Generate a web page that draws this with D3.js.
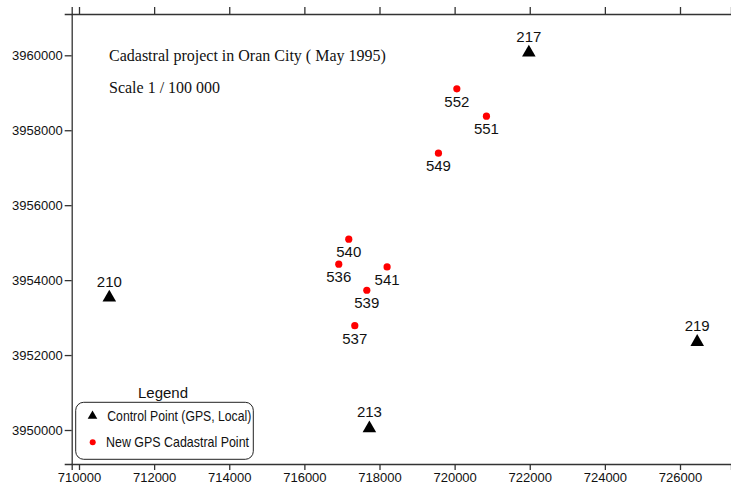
<!DOCTYPE html>
<html lang="en">
<head>
<meta charset="UTF-8">
<title>Cadastral project in Oran City</title>
<script src="https://d3js.org/d3.v7.min.js"></script>
<style>
    body{ margin:0; background:#fff; }
    .axis text{ font-family:"Liberation Sans", Arial, sans-serif; font-size:13px; fill:#111; }
    .axis path, .axis line{ stroke:#333; stroke-width:1.3; }
    .lbl{ font-family:"Liberation Sans", Arial, sans-serif; font-size:15px; fill:#111; }
    .note{ font-family:"Liberation Serif", "Times New Roman", serif; font-size:16px; fill:#111; }
</style>
</head>
<body>
<script>
// control points (GPS, local)
const ctrlNames = ["217", "210", "213", "219"]
const ctrlX = [721976, 710807, 717731, 726458]
const ctrlY = [3960100, 3953559, 3950072, 3952376]

// new GPS cadastral points
const newNames = ["552", "551", "549", "540", "536", "541", "539", "537"]
const newX = [720059, 720847, 719569, 717182, 716916, 718202, 717662, 717342]
const newY = [3959106, 3958376, 3957389, 3955092, 3954425, 3954352, 3953730, 3952785]

const xTicks = [710000, 712000, 714000, 716000, 718000, 720000, 722000, 724000, 726000]
const yTicks = [3950000, 3952000, 3954000, 3956000, 3958000, 3960000]

const W = 731, H = 486
const plot = {left:71.7, right:731, top:14, bottom:464}

const svg = d3.select("body").append("svg").attr("width", W).attr("height", H)

// scales: calibrate on the tick positions, then stretch to the frame
const x = d3.scaleLinear().domain([710000, 726000]).range([79, 680])
x.domain([x.invert(plot.left), x.invert(plot.right)]).range([plot.left, plot.right])
const y = d3.scaleLinear().domain([3950000, 3960000]).range([430, 55.3])
y.domain([y.invert(plot.bottom), y.invert(plot.top)]).range([plot.bottom, plot.top])

const fmt = d3.format("d")

svg.append("g").attr("class","axis")
    .attr("transform", `translate(0,${plot.bottom})`)
    .call(d3.axisBottom(x).tickValues(xTicks).tickFormat(fmt).tickSizeOuter(0).tickSize(6).tickPadding(3))

svg.append("g").attr("class","axis")
    .attr("transform", `translate(0,${plot.top})`)
    .call(d3.axisTop(x).tickValues(xTicks).tickFormat("").tickSizeOuter(0).tickSize(7))

svg.append("g").attr("class","axis")
    .attr("transform", `translate(${plot.left},0)`)
    .call(d3.axisLeft(y).tickValues(yTicks).tickFormat(fmt).tickSizeOuter(0).tickSize(7).tickPadding(2))

// notes
svg.append("text").attr("class","note").attr("x",109).attr("y",61)
    .text("Cadastral project in Oran City ( May 1995)")
svg.append("text").attr("class","note").attr("x",109).attr("y",93)
    .text("Scale 1 / 100 000")

const tri = d3.symbol().type(d3.symbolTriangle)

const ctrl = ctrlNames.map((n,i)=> ({name:n, x:ctrlX[i], y:ctrlY[i]}))
const pts = newNames.map((n,i)=> ({name:n, x:newX[i], y:newY[i]}))

svg.selectAll(".ctrl").data(ctrl).join("path")
    .attr("class","ctrl")
    .attr("d", tri.size(80))
    .attr("transform", d=> `translate(${x(d.x)},${y(d.y)+1})`)
    .attr("fill","#000")
svg.selectAll(".ctrlLbl").data(ctrl).join("text")
    .attr("class","lbl")
    .attr("x", d=> x(d.x)).attr("y", d=> y(d.y)-10)
    .attr("text-anchor","middle")
    .text(d=> d.name)

svg.selectAll(".pt").data(pts).join("circle")
    .attr("cx", d=> x(d.x)).attr("cy", d=> y(d.y))
    .attr("r", 3.6).attr("fill","#ff0000")
svg.selectAll(".ptLbl").data(pts).join("text")
    .attr("class","lbl")
    .attr("x", d=> x(d.x)).attr("y", d=> y(d.y)+18)
    .attr("text-anchor","middle")
    .text(d=> d.name)

// legend
const lg = svg.append("g")
lg.append("text").attr("class","lbl").attr("x",163).attr("y",398)
    .attr("text-anchor","middle").attr("font-size","14px").text("Legend")
lg.append("rect").attr("x",75.7).attr("y",402.3).attr("width",177.6).attr("height",57)
    .attr("rx",8).attr("fill","none").attr("stroke","#222").attr("stroke-width",1)
lg.append("path").attr("d", tri.size(40)).attr("transform","translate(92.5,416)").attr("fill","#000")
lg.append("text").attr("class","lbl").attr("x",107.3).attr("y",420.7)
    .attr("font-size","11px").attr("textLength",144).attr("lengthAdjust","spacingAndGlyphs")
    .text("Control Point (GPS, Local)")
lg.append("circle").attr("cx",92.7).attr("cy",442.3).attr("r",3).attr("fill","#ff0000")
lg.append("text").attr("class","lbl").attr("x",106).attr("y",447.3)
    .attr("font-size","11px").attr("textLength",143).attr("lengthAdjust","spacingAndGlyphs")
    .text("New GPS Cadastral Point")
</script>
</body>
</html>
